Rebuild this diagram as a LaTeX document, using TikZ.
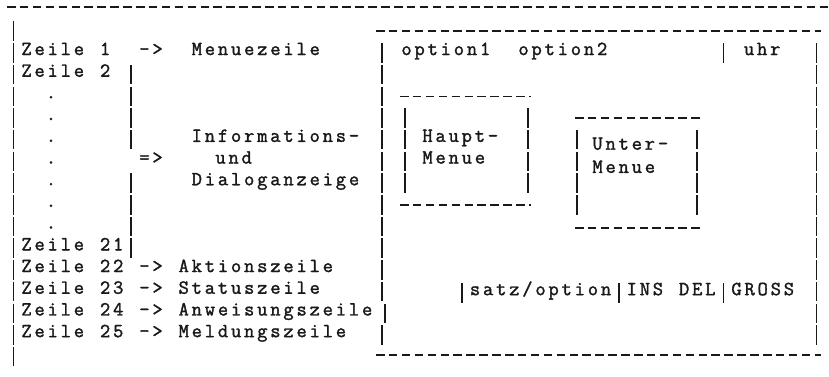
\documentclass[tikz,border=0pt]{standalone}
\font\twfont="[lmmono12-regular]:embolden=1.6" at 20pt
\makeatletter
\newlength\cellw
\setlength\cellw{13.1pt}
\def\spc@end{\spc@end}
\newcommand\spc[1]{\spc@a#1\spc@end}
\def\spc@a#1{\ifx#1\spc@end\else\makebox[\cellw]{#1}\expandafter\spc@a\fi}
\makeatother
\begin{document}
\begin{tikzpicture}[x=1pt,y=-1pt,
  txt/.style={inner sep=0pt,outer sep=0pt,anchor=mid west,text=black!90,font=\twfont},
  hd/.style={line width=1.2pt,black!90,dash pattern=on 8.5pt off 4.4pt},
  vb/.style={line width=1.1pt,black!90,dash pattern=on 19.5pt off 2.2pt}]
\fill[white] (0,0) rectangle (829,376);
\useasboundingbox (0,0) rectangle (829,376);
% horizontal rules (typed dashes)
\draw[hd] (7,7) -- (828,7);
\draw[hd] (376,31) -- (821,31);
\draw[hd] (400,96.5) -- (531,96.5);
\draw[hd] (400,205) -- (531,205);
\draw[hd] (575,118) -- (701,118);
\draw[hd] (575,228) -- (701,228);
\draw[hd] (376,355) -- (821,355);
% vertical rules (typed bars)
\draw[vb] (13.5,21.45) -- (13.5,366.45);
\draw[vb] (131,64.85) -- (131,149.45);
\draw[vb] (131,173.35) -- (131,257.95);
\draw[vb] (382,43.15) -- (382,301.35);
\draw[vb] (385,303.55) -- (385,323.05);
\draw[vb] (382,325.25) -- (382,344.75);
\draw[vb] (816.5,43.15) -- (816.5,344.75);
\draw[vb] (405,108.25) -- (405,192.85);
\draw[vb] (528,108.25) -- (528,192.85);
\draw[vb] (577,129.95) -- (577,214.55);
\draw[vb] (697,129.95) -- (697,214.55);
\draw[vb] (723.5,43.15) -- (723.5,62.65);
\draw[vb] (462,283.25) -- (462,302.75);
\draw[vb] (619,283.25) -- (619,302.75);
\draw[vb] (723.5,283.25) -- (723.5,302.75);
% texts
\node[txt] (z1) at (20,52.9) {\spc{Zeile~1}};
\node[txt] (a1) at (137.9,52.9) {\spc{->}};
\node[txt] (m1) at (190.3,52.9) {\spc{Menuezeile}};
\node[txt] (o1) at (400,52.9) {\spc{option1}};
\node[txt] (o2) at (517,52.9) {\spc{option2}};
\node[txt] (uhr) at (742.5,52.9) {\spc{uhr}};
\node[txt] (z2) at (20,74.6) {\spc{Zeile~2}};
\node[txt] (d1) at (44.45,96.3) {\spc{.}};
\node[txt] (d2) at (44.45,118) {\spc{.}};
\node[txt] (d3) at (44.45,139.7) {\spc{.}};
\node[txt] (d4) at (44.45,161.4) {\spc{.}};
\node[txt] (d5) at (44.45,183.1) {\spc{.}};
\node[txt] (d6) at (44.45,204.8) {\spc{.}};
\node[txt] (d7) at (44.45,226.5) {\spc{.}};
\node[txt] (inf) at (190.3,139.7) {\spc{Informations-}};
\node[txt] (arr) at (137.9,161.4) {\spc{=>}};
\node[txt] (und) at (214,161.4) {\spc{und}};
\node[txt] (dia) at (190.3,183.1) {\spc{Dialoganzeige}};
\node[txt] (hpt) at (421,139.7) {\spc{Haupt-}};
\node[txt] (hme) at (421,161.4) {\spc{Menue}};
\node[txt] (unt) at (591,147.5) {\spc{Unter-}};
\node[txt] (ume) at (591,170.7) {\spc{Menue}};
\node[txt] (z21) at (20,248.2) {\spc{Zeile~21}};
\node[txt] (z22) at (20,269.9) {\spc{Zeile~22}};
\node[txt] (a22) at (137.9,269.9) {\spc{->}};
\node[txt] (t22) at (177.2,269.9) {\spc{Aktionszeile}};
\node[txt] (z23) at (20,291.6) {\spc{Zeile~23}};
\node[txt] (a23) at (137.9,291.6) {\spc{->}};
\node[txt] (t23) at (177.2,291.6) {\spc{Statuszeile}};
\node[txt] (z24) at (20,313.3) {\spc{Zeile~24}};
\node[txt] (a24) at (137.9,313.3) {\spc{->}};
\node[txt] (t24) at (177.2,313.3) {\spc{Anweisungszeile}};
\node[txt] (z25) at (20,335) {\spc{Zeile~25}};
\node[txt] (a25) at (137.9,335) {\spc{->}};
\node[txt] (t25) at (177.2,335) {\spc{Meldungszeile}};
\node[txt] (satz) at (468.5,293) {\spc{satz/option}};
\node[txt] (ins) at (625.2,293) {\spc{INS~DEL}};
\node[txt] (gro) at (730,293) {\spc{GROSS}};
\end{tikzpicture}
\end{document}
